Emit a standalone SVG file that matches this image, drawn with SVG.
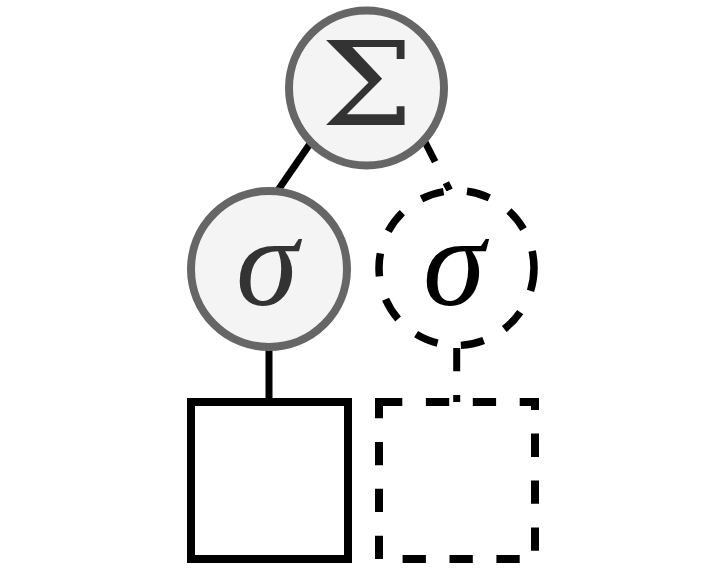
<svg xmlns="http://www.w3.org/2000/svg" width="726" height="586" viewBox="0 0 726 586">
  <defs>
    <style>
      .edge { stroke: #000; stroke-width: 7; fill: none; }
      .dash { stroke-dasharray: 23.3 23.6; }
      .node { fill: #f4f4f4; stroke: #666; stroke-width: 8; }
      .ghost { fill: #fff; stroke: #000; stroke-width: 7.5; stroke-dasharray: 23.3 23.6; }
      .box { fill: #fff; stroke: #000; stroke-width: 8; }
      .ghostbox { fill: none; stroke: #000; stroke-width: 8; stroke-dasharray: 23.3 23.6; }
      .lbl { font-family: "Liberation Serif", "DejaVu Serif", serif; font-size: 126px; text-anchor: middle; }
      .big { font-family: "DejaVu Serif", "Liberation Serif", serif; font-size: 116px; }
      .it { font-style: italic; }
    </style>
  </defs>
  <rect width="726" height="586" fill="#fff"/>
  <g id="connectors">
    <line class="edge" x1="316" y1="135" x2="274" y2="196"/>
    <line class="edge dash" x1="424.5" y1="141" x2="449.6" y2="190"/>
    <line class="edge" x1="269" y1="345" x2="269" y2="402"/>
    <line class="edge dash" x1="456.7" y1="348" x2="456.7" y2="402"/>
  </g>
  <g id="node-sum">
    <circle class="node" cx="366.5" cy="88" r="77.5"/>
    <text class="lbl big" x="0" y="125" fill="#333" transform="translate(367 0) scale(1.13 1)">Σ</text>
  </g>
  <g id="node-sigma-1">
    <circle class="node" cx="269" cy="269" r="78"/>
    <text class="lbl it" x="267" y="305" fill="#333">σ</text>
  </g>
  <g id="node-sigma-2">
    <circle class="ghost" cx="456.5" cy="268" r="77.5"/>
    <text class="lbl it" x="454" y="305" fill="#000">σ</text>
  </g>
  <g id="node-box-1">
    <rect class="box" x="191" y="402" width="157" height="157"/>
  </g>
  <g id="node-box-2">
    <rect class="ghostbox" x="379" y="402" width="156" height="157"/>
  </g>
</svg>
